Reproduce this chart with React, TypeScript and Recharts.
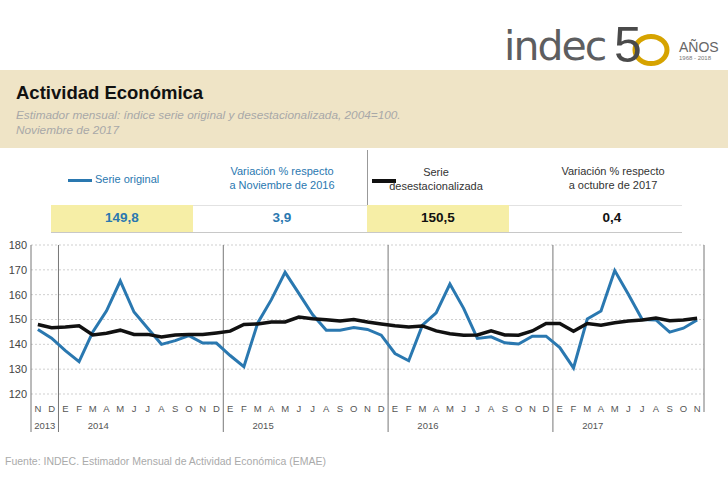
import React from "react";
import { LineChart, Line, XAxis, YAxis, CartesianGrid, ReferenceLine } from "recharts";

// Months Nov 2013 -> Nov 2017 (Spanish initials)
const months = [
  "N", "D",
  "E", "F", "M", "A", "M", "J", "J", "A", "S", "O", "N", "D",
  "E", "F", "M", "A", "M", "J", "J", "A", "S", "O", "N", "D",
  "E", "F", "M", "A", "M", "J", "J", "A", "S", "O", "N", "D",
  "E", "F", "M", "A", "M", "J", "J", "A", "S", "O", "N",
];

const serieOriginal = [
  146, 142.5,
  137.5, 133, 145, 153.5, 165.5, 153, 146.5, 140, 141.5, 143.5, 140.5, 140.5,
  135.5, 131, 148.5, 158, 169, 160.5, 152, 145.7, 145.7, 146.8, 146, 143.7,
  136.3, 133.4, 147.7, 152.7, 164.3, 154.5, 142.4, 143, 140.6, 140.1, 143.3, 143.3,
  138.7, 130.5, 150.2, 153.4, 169.7, 160.1, 150, 149.8, 144.9, 146.5, 149.8,
];

const serieDesest = [
  148, 146.7,
  147, 147.5, 143.8, 144.5, 145.7, 144, 144, 143, 143.8, 144, 144, 144.6,
  145.3, 148, 148.2, 149, 149, 151, 150.3, 149.9, 149.4, 150, 149, 148.2,
  147.5, 147, 147.4, 145.4, 144.3, 143.7, 143.8, 145.4, 143.8, 143.7, 145.4, 148.4,
  148.4, 145.3, 148.4, 147.7, 148.7, 149.4, 149.8, 150.6, 149.5, 149.8, 150.5,
];

const years = ["2013", "2014", "2015", "2016", "2017"];
const yearLabelAt = [0.5, 4.4, 16.4, 28.4, 40.4];
const yTicks = [120, 130, 140, 150, 160, 170, 180];

const BLUE = "#2a78b0";
const FONT = "'Liberation Sans', Arial, sans-serif";

const data = months.map((m, i) => ({
  idx: i,
  month: m,
  original: serieOriginal[i],
  desest: serieDesest[i],
}));

// year separators sit between D and E
const yearSeps = months
  .map((m, i) => (m === "E" ? i - 0.5 : null))
  .filter((v): v is number => v !== null);
const firstEdge = -0.5;
const lastEdge = months.length - 0.5;
const xTicks = [firstEdge, ...yearSeps, lastEdge, ...yearLabelAt, ...months.map((_, i) => i)];

function MonthTick(props: any) {
  const { x, y, payload } = props;
  const v = payload.value;
  if (v === firstEdge || v === lastEdge || yearSeps.includes(v)) {
    const len = v === lastEdge ? 18 : 38;
    return <line x1={x} x2={x} y1={y} y2={y + len} stroke="#777" strokeWidth={1} />;
  }
  const yi = yearLabelAt.indexOf(v);
  if (yi >= 0) {
    return (
      <text x={x} y={y + 34.5} textAnchor="middle" fontSize={9.5} fill="#555" fontFamily={FONT}>
        {years[yi]}
      </text>
    );
  }
  return (
    <text x={x} y={y + 17.5} textAnchor="middle" fontSize={9.5} fill="#555" fontFamily={FONT}>
      {months[v]}
    </text>
  );
}

const abs = (left: number, top: number, extra: React.CSSProperties = {}): React.CSSProperties => ({
  position: "absolute",
  left,
  top,
  ...extra,
});

function TwoLine({ cx, top, lines, color }: { cx: number; top: number; lines: string[]; color: string }) {
  return (
    <div
      style={abs(cx - 90, top, {
        width: 180,
        textAlign: "center",
        fontSize: 11,
        lineHeight: "14px",
        color,
      })}
    >
      {lines.map((l) => (
        <div key={l}>{l}</div>
      ))}
    </div>
  );
}

export default function App() {
  return (
    <div
      style={{
        position: "absolute",
        left: 0,
        top: 0,
        width: 728,
        height: 500,
        background: "#fff",
        fontFamily: FONT,
        overflow: "hidden",
      }}
    >
      {/* logo */}
      <svg width={728} height={80} style={abs(0, 0)}>
        <text x={504} y={60} fontSize={41} fill="#5d5e60" fontFamily="'DejaVu Sans', sans-serif" letterSpacing={-2}>
          indec
        </text>
        <ellipse cx={651} cy={50} rx={16} ry={13.5} fill="none" stroke="#d6a300" strokeWidth={5} />
        <text x={614} y={62} fontSize={50} fill="#4a4a4a" fontFamily={FONT}>
          5
        </text>
        <text x={679} y={52} fontSize={14} fill="#666" fontFamily={FONT}>
          AÑOS
        </text>
        <text x={679} y={60} fontSize={6} fill="#777" fontFamily={FONT}>
          1968 - 2018
        </text>
      </svg>

      {/* title band */}
      <div style={abs(0, 70, { width: 728, height: 78, background: "#efe4c6" })} />
      <div style={abs(16, 82, { fontSize: 18.5, fontWeight: "bold", color: "#111" })}>Actividad Económica</div>
      <div style={abs(16, 108, { fontSize: 11.8, fontStyle: "italic", color: "#a8a8a8", lineHeight: "15px" })}>
        Estimador mensual: índice serie original y desestacionalizada, 2004=100.
        <br />
        Noviembre de 2017
      </div>

      {/* info table */}
      <div style={abs(367, 150, { width: 1, height: 82, background: "#999" })} />
      <div style={abs(68, 179, { width: 24, height: 3, background: BLUE })} />
      <div style={abs(95, 173, { fontSize: 11, color: BLUE })}>Serie original</div>
      <TwoLine cx={282} top={164} lines={["Variación % respecto", "a Noviembre de 2016"]} color={BLUE} />
      <div style={abs(372, 179, { width: 24, height: 4, background: "#111" })} />
      <TwoLine cx={436} top={165} lines={["Serie", "desestacionalizada"]} color="#333" />
      <TwoLine cx={613} top={164} lines={["Variación % respecto", "a octubre de 2017"]} color="#333" />

      <div style={abs(51, 205, { width: 142, height: 27, background: "#f6eea6" })} />
      <div style={abs(367, 205, { width: 142, height: 27, background: "#f6eea6" })} />
      <div style={abs(193, 205, { width: 174, height: 1, background: "#e2e2e2" })} />
      <div style={abs(509, 205, { width: 173, height: 1, background: "#e2e2e2" })} />
      <div style={abs(51, 232, { width: 631, height: 1, background: "#c8c8c8" })} />
      {[
        { cx: 122, v: "149,8", c: BLUE },
        { cx: 282, v: "3,9", c: BLUE },
        { cx: 438, v: "150,5", c: "#111" },
        { cx: 612, v: "0,4", c: "#111" },
      ].map((d) => (
        <div
          key={d.v}
          style={abs(d.cx - 50, 210, {
            width: 100,
            textAlign: "center",
            fontSize: 13.5,
            fontWeight: "bold",
            color: d.c,
          })}
        >
          {d.v}
        </div>
      ))}

      {/* chart */}
      <div style={abs(0, 230)}>
        <LineChart width={728} height={230} data={data} margin={{ top: 15, right: 0, bottom: 16, left: 0 }}>
          <CartesianGrid yAxisId="left" vertical={false} stroke="#cfcfcf" strokeDasharray="2 2" />
          <XAxis
            dataKey="idx"
            type="number"
            domain={[firstEdge, lastEdge]}
            ticks={xTicks}
            interval={0}
            tick={<MonthTick />}
            tickLine={false}
            tickSize={0}
            tickMargin={0}
            axisLine={false}
            height={50}
          />
          <YAxis
            yAxisId="left"
            domain={[120, 180]}
            ticks={yTicks}
            width={31}
            tickLine={false}
            tickSize={0}
            tickMargin={4}
            axisLine={{ stroke: "#777" }}
            tick={{ fontSize: 11, fill: "#444", fontFamily: FONT }}
          />
          <YAxis
            yAxisId="right"
            orientation="right"
            domain={[120, 180]}
            ticks={yTicks}
            width={24}
            tickLine={false}
            tickSize={0}
            tickMargin={6}
            axisLine={{ stroke: "#777" }}
            tick={{ fontSize: 11, fill: "#444", fontFamily: FONT, textAnchor: "start" }}
          />
          {yearSeps.map((s) => (
            <ReferenceLine key={s} x={s} yAxisId="left" stroke="#777" strokeWidth={1} />
          ))}
          <Line
            yAxisId="left"
            dataKey="original"
            type="linear"
            stroke={BLUE}
            strokeWidth={3}
            dot={false}
            isAnimationActive={false}
          />
          <Line
            yAxisId="left"
            dataKey="desest"
            type="linear"
            stroke="#111"
            strokeWidth={3.5}
            dot={false}
            isAnimationActive={false}
          />
        </LineChart>
      </div>

      <div style={abs(5, 455, { fontSize: 10.5, color: "#aaa" })}>
        Fuente: INDEC. Estimador Mensual de Actividad Económica (EMAE)
      </div>
    </div>
  );
}
